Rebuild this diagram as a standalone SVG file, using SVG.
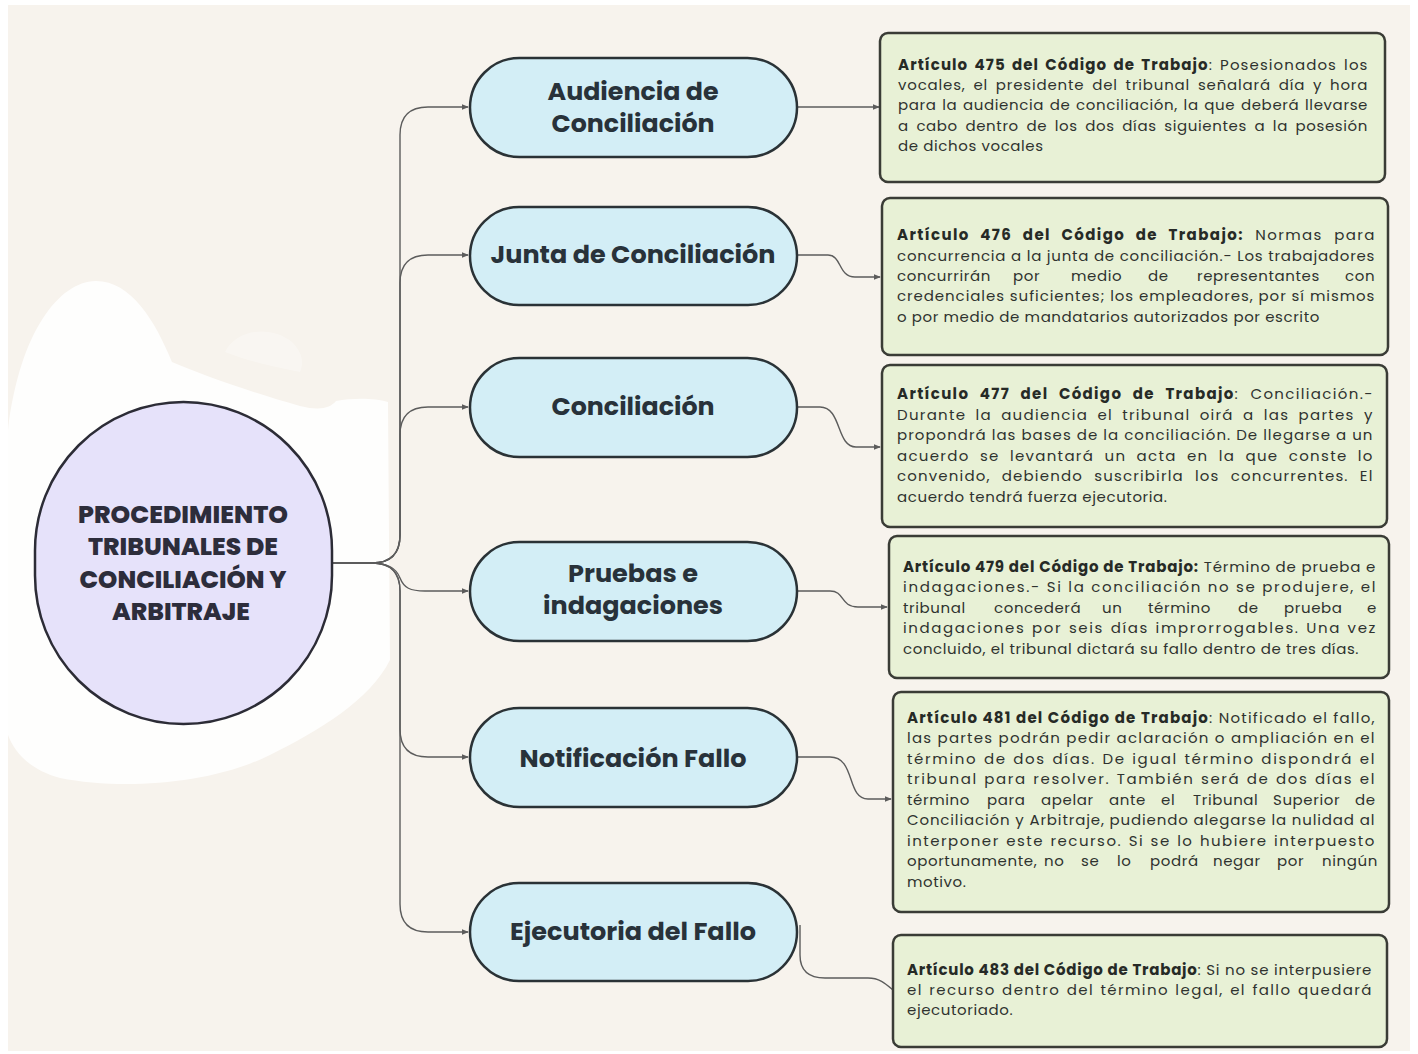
<svg xmlns="http://www.w3.org/2000/svg" width="1418" height="1054" viewBox="0 0 1418 1054">
<defs>
<style>
.root{fill:#e6e2fa;stroke:#2c2c36;stroke-width:2.5}
.pill{fill:#d3eef6;stroke:#2a3236;stroke-width:2.5}
.box{fill:#e8f1d6;stroke:#3a3c36;stroke-width:2.5}
.lbl{font-family:Poppins,Inter,"Noto Sans",sans-serif;font-weight:700;font-size:25px;fill:#28323a;text-anchor:middle}
.rlbl{font-family:Poppins,Inter,"Noto Sans",sans-serif;font-weight:800;font-size:24px;fill:#2d2d3b;text-anchor:middle}
.t{font-family:Poppins,Inter,"Noto Sans",sans-serif;font-size:15px;letter-spacing:0.6px;fill:#2f332f}
.b{font-weight:700;fill:#262a26}
.con{fill:none;stroke:#5c5c5c;stroke-width:1.4}
</style>
<marker id="ah" viewBox="0 0 8 8" refX="7" refY="4" markerWidth="7" markerHeight="7" markerUnits="userSpaceOnUse" orient="auto">
<path d="M0,0.8 L8,4 L0,7.2 Z" fill="#5c5c5c"/>
</marker>
</defs>
<rect x="0" y="0" width="1418" height="1054" fill="#ffffff"/>
<rect x="8" y="5" width="1402" height="1046" fill="#f7f3ed"/>
<path d="M8,430 C20,330 60,282 95,281 C130,280 155,320 172,362 C200,374 250,392 300,406 C320,411 330,408 336,401 C352,398 375,398 388,402 L390,660 C370,700 320,730 270,755 C210,785 120,790 60,778 C30,770 14,752 8,735 Z" fill="#ffffff" opacity="0.85"/>
<path d="M225,352 C235,330 270,324 292,342 C300,350 305,360 300,372 C280,368 250,362 225,352 Z" fill="#ffffff" opacity="0.3"/>

<g id="connectors">
<path class="con" d="M332,563 H372 Q400,563 400,535 V135 Q400,107 428,107 H468" marker-end="url(#ah)"/>
<path class="con" d="M332,563 H372 Q400,563 400,535 V283 Q400,255 428,255 H468" marker-end="url(#ah)"/>
<path class="con" d="M332,563 H372 Q400,563 400,535 V435 Q400,407 428,407 H468" marker-end="url(#ah)"/>
<path class="con" d="M332,563 H370 C388,563 396,568 400,578 C404,588 410,591 425,591 H468" marker-end="url(#ah)"/>
<path class="con" d="M332,563 H372 Q400,563 400,591 V729 Q400,757 428,757 H468" marker-end="url(#ah)"/>
<path class="con" d="M332,563 H372 Q400,563 400,591 V904 Q400,932 428,932 H468" marker-end="url(#ah)"/>
<path class="con" d="M797,107 H879" marker-end="url(#ah)"/>
<path class="con" d="M797,255 H828 C842,255 838,277 855,277 H880" marker-end="url(#ah)"/>
<path class="con" d="M797,407 H820 C842,407 836,447 856,447 H880" marker-end="url(#ah)"/>
<path class="con" d="M797,591 H830 C845,591 840,607 858,607 H887" marker-end="url(#ah)"/>
<path class="con" d="M797,757 H830 C856,757 846,799 868,799 H891" marker-end="url(#ah)"/>
<path class="con" d="M800,925 V955 C800,970 808,978 825,978 H868 C880,978 886,984 893,990"/>
</g>

<g id="root">
<rect class="root" x="35" y="402" width="297" height="322" rx="148.5" ry="148.5"/>
<text class="rlbl" x="183" y="523" textLength="210" lengthAdjust="spacingAndGlyphs">PROCEDIMIENTO</text>
<text class="rlbl" x="183" y="555" textLength="190" lengthAdjust="spacingAndGlyphs">TRIBUNALES DE</text>
<text class="rlbl" x="183" y="588" textLength="207" lengthAdjust="spacingAndGlyphs">CONCILIACIÓN Y</text>
<text class="rlbl" x="181" y="620" textLength="138" lengthAdjust="spacingAndGlyphs">ARBITRAJE</text>
</g>

<g id="n-audiencia">
<rect class="pill" x="470" y="58" width="327" height="99" rx="49.5"/>
<text class="lbl" x="633" y="100" textLength="171" lengthAdjust="spacingAndGlyphs">Audiencia de</text>
<text class="lbl" x="633" y="132" textLength="163" lengthAdjust="spacingAndGlyphs">Conciliación</text>
</g>
<g id="n-junta">
<rect class="pill" x="470" y="207" width="327" height="98" rx="49"/>
<text class="lbl" x="633" y="263" textLength="285" lengthAdjust="spacingAndGlyphs">Junta de Conciliación</text>
</g>
<g id="n-conciliacion">
<rect class="pill" x="470" y="358" width="327" height="99" rx="49.5"/>
<text class="lbl" x="633" y="415" textLength="163" lengthAdjust="spacingAndGlyphs">Conciliación</text>
</g>
<g id="n-pruebas">
<rect class="pill" x="470" y="542" width="327" height="99" rx="49.5"/>
<text class="lbl" x="633" y="582" textLength="130" lengthAdjust="spacingAndGlyphs">Pruebas e</text>
<text class="lbl" x="633" y="614" textLength="180" lengthAdjust="spacingAndGlyphs">indagaciones</text>
</g>
<g id="n-notificacion">
<rect class="pill" x="470" y="708" width="327" height="99" rx="49.5"/>
<text class="lbl" x="633" y="767" textLength="227" lengthAdjust="spacingAndGlyphs">Notificación Fallo</text>
</g>
<g id="n-ejecutoria">
<rect class="pill" x="470" y="883" width="327" height="98" rx="49"/>
<text class="lbl" x="633" y="940" textLength="246" lengthAdjust="spacingAndGlyphs">Ejecutoria del Fallo</text>
</g>

<g id="b-475">
<rect class="box" x="880" y="33" width="505" height="149" rx="8"/>
<text class="t" x="898" y="70" textLength="470" word-spacing="2"><tspan class="b">Artículo 475 del Código de Trabajo</tspan>:  Posesionados los</text>
<text class="t" x="898" y="90" textLength="470" word-spacing="3">vocales, el presidente del tribunal señalará día y hora</text>
<text class="t" x="898" y="110" textLength="470" word-spacing="1">para la audiencia de conciliación, la que deberá llevarse</text>
<text class="t" x="898" y="131" textLength="470" word-spacing="3">a cabo dentro de los dos días siguientes a la posesión</text>
<text class="t" x="898" y="151">de dichos vocales</text>
</g>

<g id="b-476">
<rect class="box" x="882" y="198" width="506" height="157" rx="8"/>
<text class="t" x="897" y="240" textLength="478" word-spacing="6"><tspan class="b">Artículo 476 del Código de Trabajo:</tspan> Normas para</text>
<text class="t" x="897" y="261" textLength="478">concurrencia a la junta de conciliación.- Los trabajadores</text>
<text class="t" y="281"><tspan x="897">concurrirán</tspan><tspan x="1013">por</tspan><tspan x="1071">medio</tspan><tspan x="1148">de</tspan><tspan x="1197">representantes</tspan><tspan x="1345">con</tspan></text>
<text class="t" x="897" y="301" textLength="478">credenciales suficientes; los empleadores, por sí mismos</text>
<text class="t" x="897" y="322">o por medio de mandatarios autorizados por escrito</text>
</g>

<g id="b-477">
<rect class="box" x="882" y="365" width="505" height="162" rx="8"/>
<text class="t" x="897" y="399" textLength="476" word-spacing="6"><tspan class="b">Artículo 477 del Código de Trabajo</tspan>: Conciliación.-</text>
<text class="t" x="897" y="420" textLength="476" word-spacing="4">Durante la audiencia el tribunal oirá a las partes y</text>
<text class="t" x="897" y="440" textLength="476">propondrá las bases de la conciliación. De llegarse a un</text>
<text class="t" x="897" y="461" textLength="476" word-spacing="5">acuerdo se levantará un acta en la que conste lo</text>
<text class="t" x="897" y="481" textLength="476" word-spacing="6">convenido, debiendo suscribirla los concurrentes. El</text>
<text class="t" x="897" y="502">acuerdo tendrá fuerza ejecutoria.</text>
</g>

<g id="b-479">
<rect class="box" x="889" y="536" width="500" height="142" rx="8"/>
<text class="t" x="903" y="572" textLength="473"><tspan class="b">Artículo 479 del Código de Trabajo:</tspan> Término de prueba e</text>
<text class="t" x="903" y="592" textLength="473">indagaciones.- Si la conciliación no se produjere, el</text>
<text class="t" y="613"><tspan x="903">tribunal</tspan><tspan x="994">concederá</tspan><tspan x="1102">un</tspan><tspan x="1148">término</tspan><tspan x="1238">de</tspan><tspan x="1284">prueba</tspan><tspan x="1367">e</tspan></text>
<text class="t" x="903" y="633" textLength="473" word-spacing="1">indagaciones por seis días improrrogables. Una vez</text>
<text class="t" x="903" y="654">concluido, el tribunal dictará su fallo dentro de tres días.</text>
</g>

<g id="b-481">
<rect class="box" x="893" y="692" width="496" height="220" rx="8"/>
<text class="t" x="907" y="723" textLength="468"><tspan class="b">Artículo 481 del Código de Trabajo</tspan>: Notificado el fallo,</text>
<text class="t" x="907" y="743" textLength="468">las partes podrán pedir aclaración o ampliación en el</text>
<text class="t" x="907" y="764" textLength="468" word-spacing="1">término de dos días. De igual término dispondrá el</text>
<text class="t" x="907" y="784" textLength="468" word-spacing="1">tribunal para resolver. También será de dos días el</text>
<text class="t" y="805"><tspan x="907">término</tspan><tspan x="987">para</tspan><tspan x="1041">apelar</tspan><tspan x="1109">ante</tspan><tspan x="1161">el</tspan><tspan x="1193">Tribunal</tspan><tspan x="1273">Superior</tspan><tspan x="1355">de</tspan></text>
<text class="t" x="907" y="825" textLength="468">Conciliación y Arbitraje, pudiendo alegarse la nulidad al</text>
<text class="t" x="907" y="846" textLength="468" word-spacing="1">interponer este recurso. Si se lo hubiere interpuesto</text>
<text class="t" y="866"><tspan x="907">oportunamente,</tspan><tspan x="1044">no</tspan><tspan x="1081">se</tspan><tspan x="1117">lo</tspan><tspan x="1150">podrá</tspan><tspan x="1213">negar</tspan><tspan x="1277">por</tspan><tspan x="1322">ningún</tspan></text>
<text class="t" x="907" y="887">motivo.</text>
</g>

<g id="b-483">
<rect class="box" x="893" y="935" width="494" height="112" rx="8"/>
<text class="t" x="907" y="975" textLength="465"><tspan class="b">Artículo 483 del Código de Trabajo</tspan>: Si no se interpusiere</text>
<text class="t" x="907" y="995" textLength="465" word-spacing="1">el recurso dentro del término legal, el fallo quedará</text>
<text class="t" x="907" y="1015">ejecutoriado.</text>
</g>
</svg>
